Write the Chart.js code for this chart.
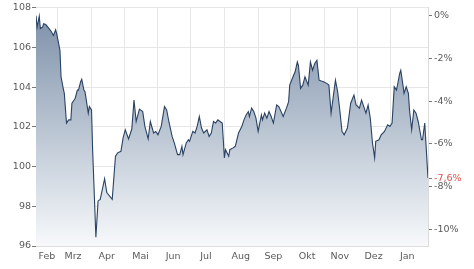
<!DOCTYPE html>
<html>
<head>
<meta charset="utf-8">
<script src="https://cdn.jsdelivr.net/npm/chart.js@4"></script>
<style>
    body { margin: 0; background: #fff; }
    #priceChart { display: block; }
</style>
</head>
<body>
<canvas id="priceChart" width="474" height="269"></canvas>
<script>
// day index (0 = 1 Feb) and price per point
const days = [
    8, 9, 11, 12, 14, 15, 17, 20, 22, 24,
    26, 27, 30, 31, 33, 34, 36, 38, 40, 41,
    43, 44, 46, 47, 49, 50, 52, 53, 56, 57,
    59, 60, 63, 65, 67, 71, 73, 78, 81, 83,
    86, 88, 90, 93, 96, 98, 100, 103, 106, 108,
    111, 113, 116, 118, 120, 123, 126, 128, 130, 133,
    135, 138, 140, 142, 143, 146, 148, 149, 152, 154,
    156, 158, 160, 162, 165, 167, 169, 171, 173, 175,
    177, 179, 180, 181, 182, 185, 186, 189, 191, 194,
    197, 199, 201, 203, 204, 206, 208, 210, 212, 215,
    216, 218, 220, 222, 224, 226, 229, 231, 233, 235,
    238, 240, 241, 244, 246, 248, 249, 251, 253, 255,
    258, 260, 262, 264, 266, 268, 272, 275, 277, 279,
    283, 285, 287, 289, 291, 294, 297, 300, 302, 305,
    307, 309, 311, 313, 315, 317, 319, 320, 323, 325,
    328, 331, 333, 335, 337, 339, 340, 342, 343, 345,
    346, 348, 350, 351, 353, 355, 357, 359, 362, 363,
    365, 366, 368
];
const prices = [
    107.6, 107.02, 107.57, 106.95, 107.02, 107.19, 107.15, 106.95, 106.8, 106.6,
    106.89, 106.69, 105.85, 104.52, 103.94, 103.69, 102.19, 102.35, 102.35, 103.19,
    103.35, 103.44, 103.85, 103.85, 104.27, 104.39, 103.85, 103.77, 102.69, 103.02,
    102.85, 100.85, 96.44, 98.27, 98.35, 99.39, 98.69, 98.35, 100.52, 100.69,
    100.77, 101.44, 101.85, 101.39, 101.89, 103.35, 102.27, 102.89, 102.77, 102.02,
    101.39, 102.27, 101.69, 101.77, 101.6, 102.02, 103.02, 102.85, 102.27, 101.52,
    101.19, 100.6, 100.6, 101.02, 100.6, 101.19, 101.35, 101.27, 101.77, 101.69,
    102.02, 102.52, 101.94, 101.69, 101.85, 101.52, 101.69, 102.27, 102.19, 102.35,
    102.27, 102.19, 101.35, 100.44, 100.85, 100.52, 100.85, 100.94, 101.02, 101.69,
    102.02, 102.35, 102.6, 102.77, 102.52, 102.94, 102.77, 102.44, 101.77, 102.6,
    102.35, 102.69, 102.44, 102.77, 102.52, 102.19, 103.1, 103.02, 102.77, 102.52,
    102.94, 103.27, 104.1, 104.52, 104.77, 105.27, 105.1, 103.94, 104.1, 104.52,
    104.1, 105.27, 104.85, 105.19, 105.35, 104.35, 104.27, 104.19, 104.1, 102.69,
    104.35, 103.77, 102.85, 101.77, 101.6, 101.94, 103.19, 103.6, 103.1, 102.94,
    103.35, 103.02, 102.69, 103.1, 102.44, 101.19, 100.44, 101.27, 101.35, 101.6,
    101.77, 102.1, 102.02, 102.19, 104.02, 103.85, 104.1, 104.69, 104.85, 104.1,
    103.69, 104.02, 103.69, 102.85, 101.85, 102.85, 102.69, 102.27, 101.35, 101.35,
    102.19, 101.27, 99.42
];

const months = ['Feb', 'Mrz', 'Apr', 'Mai', 'Jun', 'Jul', 'Aug', 'Sep', 'Okt', 'Nov', 'Dez', 'Jan'];
const monthLabelDays = [18, 42, 73, 104, 134, 164, 196, 226, 257, 287, 318, 349];
const monthStarts = [28, 59, 89, 120, 150, 181, 212, 242, 273, 303, 334];
const pctTicks = [0, -2, -4, -6, -8, -10];

const dayMin = 8;
const dayMax = 368;
const priceMin = 96;
const priceMax = 108;

const base = prices[0];
const pct = v => (v / base - 1) * 100;
const lastPct = pct(prices[prices.length - 1]);

const textColor = '#5a5a5a';
const gridColor = '#e6e6e6';
const font = { family: 'DejaVu Sans', size: 9.5 };

const ctx = document.getElementById('priceChart').getContext('2d');
const priceChart = new Chart(ctx, {
    type: 'line',
    data: {
        datasets: [{
            data: days.map((d, i) => ({ x: d, y: prices[i] })),
            borderColor: '#2b4263',
            borderWidth: 1.1,
            pointRadius: 0,
            tension: 0,
            fill: 'start',
            backgroundColor: function (context) {
                const chart = context.chart;
                const area = chart.chartArea;
                if (!area) return 'rgba(120,140,165,0.6)';
                const g = chart.ctx.createLinearGradient(0, area.top, 0, area.bottom);
                g.addColorStop(0, 'rgb(122,142,168)');
                g.addColorStop(1, 'rgb(247,249,251)');
                return g;
            }
        }]
    },
    options: {
        responsive: false,
        animation: false,
        layout: { padding: { top: 7 } },
        plugins: {
            legend: { display: false },
            tooltip: { enabled: false }
        },
        scales: {
            x: {
                type: 'linear',
                min: dayMin,
                max: dayMax,
                afterBuildTicks: axis => { axis.ticks = monthStarts.map(v => ({ value: v })); },
                ticks: { display: false },
                grid: { color: gridColor, drawTicks: false },
                border: { color: '#dcdcdc' },
                afterFit: scale => { scale.height = 0; }
            },
            xl: {
                type: 'linear',
                position: 'bottom',
                min: dayMin,
                max: dayMax,
                afterBuildTicks: axis => { axis.ticks = monthLabelDays.map(v => ({ value: v })); },
                ticks: {
                    autoSkip: false,
                    maxRotation: 0,
                    padding: 5,
                    color: textColor,
                    font: font,
                    callback: (value, index) => months[index]
                },
                grid: { display: false, drawTicks: false },
                border: { display: false },
                afterFit: scale => { scale.height = 23; }
            },
            y: {
                min: priceMin,
                max: priceMax,
                ticks: { stepSize: 2, padding: 1, color: textColor, font: font },
                grid: { color: gridColor, tickLength: 4, tickColor: '#777' },
                border: { display: false },
                afterFit: scale => { scale.width = 36; }
            },
            y2: {
                position: 'right',
                min: pct(priceMin),
                max: pct(priceMax),
                afterBuildTicks: axis => {
                    axis.ticks = pctTicks.concat([lastPct]).map(v => ({ value: v }));
                },
                ticks: {
                    autoSkip: false,
                    padding: 2,
                    font: font,
                    color: c => c.index === pctTicks.length ? '#d9534f' : textColor,
                    callback: v => (Math.round(v * 10) / 10).toString().replace('.', ',') + '%'
                },
                grid: { drawOnChartArea: false, tickLength: 4, tickColor: '#777' },
                border: { color: '#dcdcdc' },
                afterFit: scale => { scale.width = 46; }
            }
        }
    }
});
</script>
</body>
</html>
